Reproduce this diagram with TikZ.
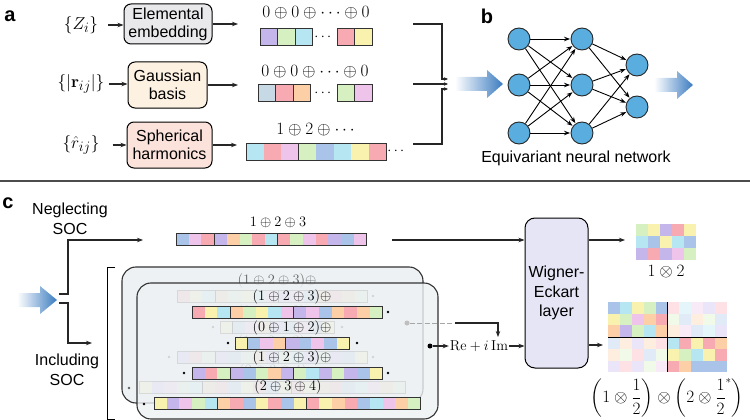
\documentclass[tikz,border=0pt]{standalone}
\usepackage{amsmath,amssymb}
\usepackage[no-math]{fontspec}
\setmainfont{Liberation Sans}
\usetikzlibrary{arrows.meta,positioning,calc}

\definecolor{cyc}{HTML}{B5E6F1}
\definecolor{pkc}{HTML}{F8AAB2}
\definecolor{lpc}{HTML}{EEC4EA}
\definecolor{grc}{HTML}{D6F0C1}
\definecolor{blc}{HTML}{A9C3E9}
\definecolor{ylc}{HTML}{F8F2AE}
\definecolor{orc}{HTML}{FDCFA6}
\definecolor{puc}{HTML}{C4B5EB}
\definecolor{gbc}{HTML}{C8D9E6}
\definecolor{nnblue}{HTML}{5AAEDF}
\definecolor{arrblue}{HTML}{3B7CC0}
\definecolor{embfill}{HTML}{E9E9EC}
\definecolor{gaufill}{HTML}{FDF1E1}
\definecolor{sphfill}{HTML}{FBE2DA}
\definecolor{wefill}{HTML}{E5E5F6}
\definecolor{socfill}{HTML}{EDF1F3}

\tikzset{
  >={Stealth[length=6pt,width=4.5pt]},
  flow/.style={->,line width=1.1pt,black!85},
  smallflow/.style={-{Stealth[length=4pt,width=3.5pt]},line width=1.1pt,black!85},
  procbox/.style={draw,rounded corners=7pt,line width=1pt,align=center,
    inner sep=1pt,font=\fontsize{16}{18}\selectfont},
  mlbl/.style={font=\fontsize{19}{20}\selectfont,inner sep=1pt},
  flbl/.style={font=\fontsize{18}{20}\selectfont,inner sep=1pt},
  slbl/.style={font=\fontsize{15}{17}\selectfont,inner sep=1pt},
  txt/.style={font=\fontsize{16}{20}\selectfont,align=center,inner sep=1pt},
  panel/.style={font=\fontsize{20}{20}\selectfont\bfseries,inner sep=0pt},
  neuron/.style={circle,draw=black!85,fill=nnblue,line width=0.9pt,
    minimum size=22pt,inner sep=0pt},
  nnedge/.style={->,line width=0.9pt,shorten >=0.5pt},
  cellline/.style={draw=black!80,line width=0.9pt},
  layerbox/.style={draw=black!80,line width=1.1pt,rounded corners=14pt,fill=socfill},
  ddot/.style={circle,fill=black,inner sep=0pt,minimum size=5pt},
}

% strips of coloured cells
\newcommand\cellrow[2]{\xdef\nextx{#1}\xdef\rowy{#2}}
\newcommand\cellgrp[1]{%
  \foreach \cc [count=\ii from 0] in {#1}
    {\fill[\cc] ({\nextx+\ii*\cellw},\rowy) rectangle ++(\cellw,\cellh);
     \xdef\ngrp{\the\numexpr\ii+1\relax}}
  \draw[cellline] (\nextx,\rowy) rectangle ++({\ngrp*\cellw},\cellh);
  \pgfmathsetmacro\tmpx{\nextx+\ngrp*\cellw}\xdef\nextx{\tmpx}}
\newcommand\matrow[3]{%
  \foreach \cc [count=\ii from 0] in {#3}
    \fill[\cc] ({#1+\ii*\cellw},#2) rectangle ++(\cellw,\cellh);}
\newcommand\bluearrow[4]{%
  \shade[left color=arrblue!2,right color=arrblue] (#1,{#4-7}) -- (#2,{#4-7})
    -- (#2,{#4-14}) -- (#3,#4) -- (#2,{#4+14}) -- (#2,{#4+7}) -- (#1,{#4+7}) -- cycle;}
\newcommand\soclayer[1]{%
  \def\cellw{12.7}\def\cellh{12.5}
  \node[slbl] (#1r1) at (292,297) {$(1\oplus2\oplus3)\oplus$};
  \cellrow{192}{306}\cellgrp{pkc,ylc,cyc}\cellgrp{orc,grc,ylc,cyc,lpc}
    \cellgrp{puc,lpc,blc,orc,pkc,orc,grc}
  \node[slbl] (#1r2) at (292,328) {$(0\oplus1\oplus2)\oplus$};
  \cellrow{235}{337}\cellgrp{ylc}\cellgrp{blc,lpc,orc}\cellgrp{puc,blc,lpc,blc,ylc}
  \node[slbl] (#1r3) at (292,358) {$(1\oplus2\oplus3)\oplus$};
  \cellrow{192}{367}\cellgrp{puc,pkc,grc}\cellgrp{puc,blc,grc,orc,puc}
    \cellgrp{grc,cyc,puc,grc,puc,blc,ylc}
  \node[slbl] (#1r4) at (288,387) {$(2\oplus3\oplus4)$};
  \cellrow{154}{397}\cellgrp{ylc,puc,lpc,grc,cyc}\cellgrp{orc,pkc,blc,ylc,pkc,blc,ylc}
    \cellgrp{pkc,ylc,orc,pkc,blc,cyc,lpc,orc,grc}
  \foreach \p in {(388,312),(228,343),(357,343),(184,373),(388,373),(144,404)}
    \fill \p circle (1.3pt);
}

\begin{document}
\begin{tikzpicture}[x=1pt,y=-1pt]
  \useasboundingbox (0,0) rectangle (750,420);

  % a
  \node[panel] (pa) at (10,16) {a};
  \node[mlbl] (zi) at (81,25) {$\{Z_i\}$};
  \node[mlbl] (rij) at (81,84) {$\{|\mathbf{r}_{ij}|\}$};
  \node[mlbl] (rhat) at (81,145) {$\{\hat{r}_{ij}\}$};
  \node[procbox,fill=embfill,minimum width=88pt,minimum height=40pt] (emb) at (168,24)
    {Elemental\\embedding};
  \node[procbox,fill=gaufill,minimum width=79pt,minimum height=46pt] (gau) at (167.5,85)
    {Gaussian\\basis};
  \node[procbox,fill=sphfill,minimum width=85pt,minimum height=46pt] (sph) at (169.5,145)
    {Spherical\\harmonics};
  \draw[flow,shorten <=9pt] (zi.east) -- (zi.east -| emb.west);
  \draw[flow,shorten <=3pt] (rij.east) -- (rij.east -| gau.west);
  \draw[flow,shorten <=12pt] (rhat.east) -- (rhat.east -| sph.west);
  \coordinate (e1) at (238,24);
  \coordinate (e2) at (238,85);
  \coordinate (e3) at (237,145);
  \draw[flow] (emb.east) -- (emb.east -| e1);
  \draw[flow] (gau.east) -- (gau.east -| e2);
  \draw[flow] (sph.east) -- (sph.east -| e3);

  \def\cellw{17.5}\def\cellh{17.5}
  \node[flbl] (l1) at (316,13) {$0\oplus0\oplus\cdots\oplus0$};
  \cellrow{260}{28}\cellgrp{puc}\cellgrp{grc}\cellgrp{cyc}
  \cellrow{337}{28}\cellgrp{pkc}\cellgrp{ylc}
  \node[slbl] (d1) at (324,37) {$\cdots$};
  \node[flbl] (l2) at (315,72) {$0\oplus0\oplus\cdots\oplus0$};
  \cellrow{258}{84}\cellgrp{gbc}\cellgrp{pkc}\cellgrp{orc}
  \cellrow{337}{84}\cellgrp{grc}\cellgrp{lpc}
  \node[slbl] (d2) at (324,93) {$\cdots$};
  \node[flbl] (l3) at (317,130) {$1\oplus2\oplus\cdots$};
  \cellrow{246}{143}\cellgrp{cyc,pkc,lpc}\cellgrp{grc,blc,cyc,ylc,pkc}
  \node[slbl] (d3) at (397,151) {$\cdots$};

  \coordinate (m1) at (413,24);
  \coordinate (m2) at (413,84);
  \coordinate (m3) at (413,144);
  \coordinate (j1) at (448,79);
  \coordinate (j2) at (448,84);
  \coordinate (j3) at (448,89);
  \draw[smallflow] (m1) -| ([xshift=-6pt]j1) -- (j1);
  \draw[smallflow] (m2) -- (j2);
  \draw[smallflow] (m3) -| ([xshift=-6pt]j3) -- (j3);
  \bluearrow{456}{487}{503}{84}

  % b
  \node[panel] (pb) at (487,16) {b};
  \foreach \y [count=\i] in {39,85,133} {
    \node[neuron] (h1\i) at (519,\y) {};
    \node[neuron] (h2\i) at (582,\y) {};}
  \node[neuron] (h31) at (637,65) {};
  \node[neuron] (h32) at (637,107) {};
  \foreach \i in {1,2,3} {
    \foreach \j in {1,2,3} \draw[nnedge] (h1\i) -- (h2\j);
    \foreach \j in {1,2} \draw[nnedge] (h2\i) -- (h3\j);}
  \node[txt] (nnlbl) at (576,158) {Equivariant neural network};
  \bluearrow{655}{677}{693}{85}

  \draw[line width=1.5pt,black!70] (0,181) -- (750,181);

  % c
  \node[panel] (pc) at (8,203) {c};
  \node[txt] (neg) at (70,219) {Neglecting\\SOC};
  \node[txt] (inc) at (67,370) {Including\\SOC};
  \bluearrow{18}{40}{57}{300}
  \coordinate (b1) at (59,294);
  \coordinate (b2) at (59,303);
  \coordinate (t1) at (143,240);
  \coordinate (t2) at (92,343);
  \draw[flow] (b1) -- ++(9,0) |- (t1);
  \draw[flow] (b2) -- ++(9,0) |- (t2);

  \def\cellw{12.7}\def\cellh{12.7}
  \node[slbl] (negl) at (278,222) {$1\oplus2\oplus3$};
  \cellrow{176}{233}\cellgrp{blc,lpc,pkc}\cellgrp{puc,orc,grc,pkc,cyc}
    \cellgrp{pkc,grc,lpc,pkc,puc,blc,lpc}

  \draw[line width=1pt] (115,267) -- (107,267) -- (107,419) -- (115,419);
  \draw[layerbox] (122,267) rectangle (423,403);
  \begin{scope}[shift={(-15,-16)},opacity=0.6]
    \soclayer{bk}
  \end{scope}
  \draw[layerbox,fill opacity=0.8] (137,283) rectangle (438,419);
  \soclayer{fr}

  \node[procbox,fill=wefill,minimum width=63pt,minimum height=150pt,
    rounded corners=10pt,font=\fontsize{16}{19.5}\selectfont] (we) at (556.5,293)
    {Wigner-\\Eckart\\layer};
  \coordinate (n1) at (392,240);
  \draw[flow] (n1) -- (n1 -| we.west);

  \node[ddot] (redot) at (430,346) {};
  \node[slbl] (reim) at (479,346) {$\mathrm{Re}+i\,\mathrm{Im}$};
  \draw[flow] (redot) -- (reim);
  \draw[flow] (reim) -- (reim -| we.west);
  \node[ddot,fill=black!25] (bkdot) at (407,323) {};
  \coordinate (dsh) at (455,323);
  \coordinate (dn) at (498,337);
  \draw[black!35,line width=1pt,dash pattern=on 5pt off 2.5pt] (bkdot) -- (dsh);
  \draw[flow] (dsh) -| (dn);

  % outputs
  \coordinate (o1) at (625,240);
  \coordinate (o2) at (603,345);
  \draw[flow] (we.east |- o1) -- (o1);
  \draw[flow] (we.east |- o2) -- (o2);
  \def\cellw{12}\def\cellh{12}
  \matrow{636}{224}{grc,ylc,puc,pkc,ylc}
  \matrow{636}{236}{cyc,blc,ylc,cyc,blc}
  \matrow{636}{248}{puc,pkc,puc,lpc,grc}
  \node[flbl] (m12) at (666,272) {$1\otimes2$};

  \def\cellw{11.9}\def\cellh{11.7}
  \matrow{608}{302}{blc,cyc,ylc,grc,blc}
  \matrow{608}{313.7}{ylc,grc,lpc,orc,pkc}
  \matrow{608}{325.4}{orc,puc,grc,cyc,orc}
  \matrow{667.5}{337.1}{cyc,pkc,ylc,pkc,orc}
  \matrow{667.5}{348.8}{ylc,grc,cyc,ylc,pkc}
  \matrow{667.5}{360.5}{pkc,orc,blc,blc,blc}
  \begin{scope}[opacity=0.35]
    \matrow{667.5}{302}{pkc,cyc,lpc,puc,pkc}
    \matrow{667.5}{313.7}{grc,blc,orc,grc,blc}
    \matrow{667.5}{325.4}{orc,lpc,blc,cyc,puc}
    \matrow{608}{337.1}{blc,orc,puc,orc,pkc}
    \matrow{608}{348.8}{orc,grc,pkc,blc,grc}
    \matrow{608}{360.5}{puc,pkc,puc,grc,lpc}
  \end{scope}
  \draw[line width=1pt] (667.5,302) -- (667.5,372.2);
  \draw[line width=1pt] (608,337.1) -- (727,337.1);
  \node[flbl,font=\fontsize{16}{18}\selectfont] (mhalf) at (667,398)
    {$\left(1\otimes\dfrac12\right)\otimes\left(2\otimes{\dfrac12}^{*}\right)$};
\end{tikzpicture}
\end{document}
